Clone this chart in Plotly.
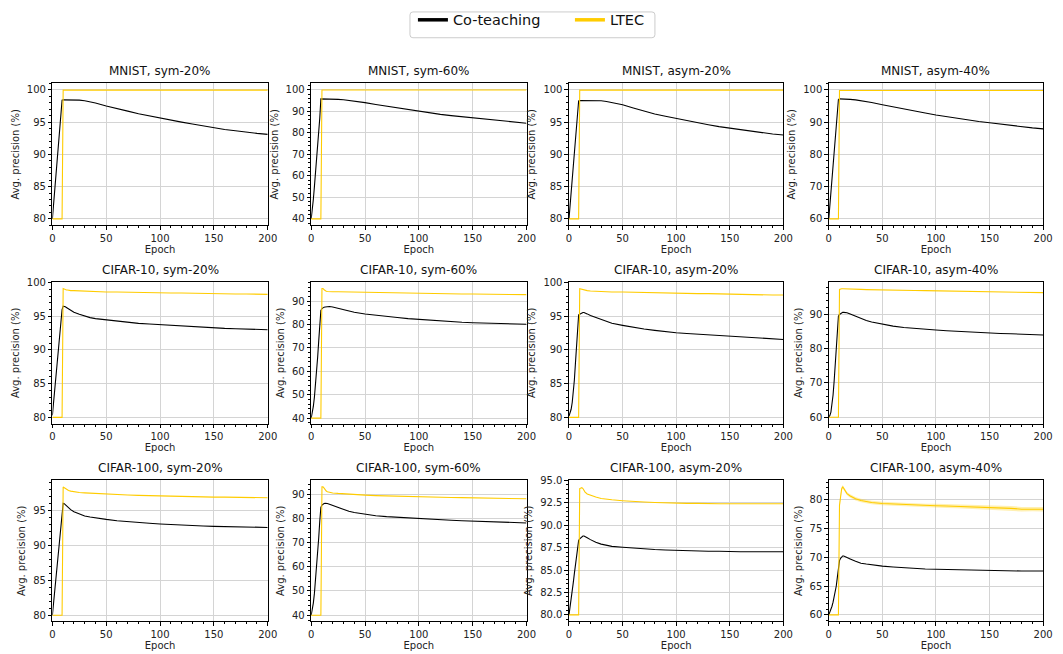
import plotly.graph_objects as go

# ---------------- data ----------------
EPOCHS = [0, 1, 2, 3, 4, 5, 6, 7, 8, 9, 10, 11, 12, 13, 14, 15, 17, 20, 25, 30, 35, 40,
          50, 60, 70, 80, 90, 100, 110, 120, 130, 140, 150, 160, 170, 180, 190, 200]

TITLES = ["MNIST, sym-20%", "MNIST, sym-60%", "MNIST, asym-20%", "MNIST, asym-40%",
          "CIFAR-10, sym-20%", "CIFAR-10, sym-60%", "CIFAR-10, asym-20%", "CIFAR-10, asym-40%",
          "CIFAR-100, sym-20%", "CIFAR-100, sym-60%", "CIFAR-100, asym-20%", "CIFAR-100, asym-40%"]

SERIES_NAMES = ["Co-teaching", "LTEC"]

CT_MNIST_SYM20 = [80.0, 82.1, 84.2, 86.2, 88.3, 90.3, 92.3, 94.3, 96.4, 98.4, 98.45, 98.45, 98.45, 98.45, 98.45, 98.45,
                  98.45, 98.45, 98.4, 98.3, 98.15, 97.95,
                  97.5, 97.05, 96.7, 96.3, 95.95, 95.6, 95.3, 95.0, 94.7, 94.4, 94.15, 93.85, 93.65, 93.4, 93.25, 93.1]
LTEC_MNIST_SYM20 = [80.0, 80.0, 80.0, 80.0, 80.0, 80.0, 80.0, 80.0, 80.0, 80.0, 99.95, 99.95, 99.95, 99.95, 99.95, 99.95,
                    99.95, 99.95, 99.95, 99.95, 99.95, 99.95,
                    99.95, 99.95, 99.95, 99.95, 99.95, 99.95, 99.95, 99.95, 99.95, 99.95, 99.95, 99.95, 99.95, 99.95, 99.95, 99.95]

CT_MNIST_SYM60 = [40.0, 44.0, 49.0, 55.0, 61.0, 67.0, 73.0, 80.0, 87.0, 95.8, 95.8, 95.8, 95.8, 95.8, 95.8, 95.75,
                  95.75, 95.7, 95.55, 95.4, 95.1, 94.8,
                  94.05, 93.2, 92.4, 91.6, 90.8, 90.0, 89.3, 88.6, 88.0, 87.5, 87.0, 86.4, 85.9, 85.4, 85.0, 84.5]
LTEC_MNIST_SYM60 = [40.0, 40.0, 40.0, 40.0, 40.0, 40.0, 40.0, 40.0, 40.0, 40.0, 99.9, 99.9, 99.9, 99.9, 99.9, 99.9,
                    99.9, 99.9, 99.9, 99.9, 99.9, 99.9,
                    99.9, 99.9, 99.9, 99.9, 99.9, 99.9, 99.9, 99.9, 99.9, 99.9, 99.9, 99.9, 99.9, 99.9, 99.9, 99.9]

CT_MNIST_ASYM20 = [80.0, 82.0, 84.1, 86.1, 88.2, 90.2, 92.2, 94.2, 96.3, 98.3, 98.35, 98.35, 98.35, 98.35, 98.35, 98.35,
                   98.35, 98.35, 98.3, 98.3, 98.2, 98.05,
                   97.7, 97.2, 96.7, 96.25, 95.9, 95.55, 95.2, 94.9, 94.6, 94.3, 94.05, 93.8, 93.55, 93.35, 93.15, 93.0]
LTEC_MNIST_ASYM20 = [80.0, 80.0, 80.0, 80.0, 80.0, 80.0, 80.0, 80.0, 80.0, 80.0, 99.95, 99.95, 99.95, 99.95, 99.95, 99.95,
                     99.95, 99.95, 99.95, 99.95, 99.95, 99.95,
                     99.95, 99.95, 99.95, 99.95, 99.95, 99.95, 99.95, 99.95, 99.95, 99.95, 99.95, 99.95, 99.95, 99.95, 99.95, 99.95]

CT_MNIST_ASYM40 = [60.0, 64.1, 68.2, 72.3, 76.4, 80.5, 84.6, 88.7, 92.9, 97.0, 97.2, 97.2, 97.2, 97.2, 97.2, 97.15,
                   97.1, 97.05, 96.9, 96.7, 96.45, 96.1,
                   95.4, 94.7, 94.05, 93.4, 92.8, 92.2, 91.65, 91.1, 90.65, 90.2, 89.8, 89.35, 88.95, 88.55, 88.2, 87.9]
LTEC_MNIST_ASYM40 = [60.0, 60.0, 60.0, 60.0, 60.0, 60.0, 60.0, 60.0, 60.0, 60.0, 99.8, 99.8, 99.8, 99.8, 99.8, 99.8,
                     99.8, 99.8, 99.8, 99.8, 99.8, 99.8,
                     99.8, 99.8, 99.8, 99.8, 99.8, 99.8, 99.8, 99.8, 99.8, 99.8, 99.8, 99.8, 99.8, 99.8, 99.8, 99.8]

CT_C10_SYM20 = [80.3, 82.0, 83.8, 85.6, 87.4, 89.2, 91.0, 92.8, 94.5, 96.0, 96.5, 96.5, 96.4, 96.3, 96.2, 96.1,
                95.9, 95.6, 95.3, 95.0, 94.8, 94.65,
                94.45, 94.25, 94.1, 93.95, 93.85, 93.75, 93.6, 93.5, 93.4, 93.35, 93.3, 93.2, 93.15, 93.1, 93.05, 93.0]
LTEC_C10_SYM20 = [80.0, 80.0, 80.0, 80.0, 80.0, 80.0, 80.0, 80.0, 80.0, 80.0, 99.1, 99.0, 98.95, 98.9, 98.9, 98.85,
                  98.8, 98.8, 98.75, 98.7, 98.7, 98.65,
                  98.6, 98.6, 98.55, 98.55, 98.5, 98.5, 98.45, 98.45, 98.4, 98.4, 98.35, 98.35, 98.3, 98.3, 98.25, 98.25]

CT_C10_SYM60 = [40.0, 42.0, 45.0, 49.0, 54.0, 60.0, 66.0, 73.0, 80.0, 86.0, 86.8, 87.2, 87.4, 87.5, 87.6, 87.7,
                87.7, 87.5, 86.9, 86.2, 85.6, 85.2,
                84.5, 83.9, 83.4, 83.0, 82.5, 82.15, 81.8, 81.5, 81.2, 80.95, 80.75, 80.6, 80.5, 80.4, 80.3, 80.1]
LTEC_C10_SYM60 = [40.0, 40.0, 40.0, 40.0, 40.0, 40.0, 40.0, 40.0, 40.0, 40.0, 95.4, 95.4, 94.8, 94.4, 94.2, 94.1,
                  94.0, 94.0, 93.95, 93.9, 93.85, 93.8,
                  93.7, 93.6, 93.55, 93.5, 93.4, 93.3, 93.25, 93.2, 93.1, 93.05, 93.0, 92.95, 92.9, 92.85, 92.8, 92.75]

CT_C10_ASYM20 = [80.2, 80.6, 81.2, 82.2, 83.6, 85.5, 88.0, 90.8, 93.5, 95.2, 95.3, 95.4, 95.5, 95.55, 95.55, 95.5,
                 95.35, 95.1, 94.8, 94.5, 94.2, 93.95,
                 93.65, 93.35, 93.1, 92.9, 92.7, 92.55, 92.45, 92.35, 92.2, 92.1, 92.0, 91.9, 91.85, 91.8, 91.65, 91.55]
LTEC_C10_ASYM20 = [80.0, 80.0, 80.0, 80.0, 80.0, 80.0, 80.0, 80.0, 80.0, 80.0, 99.1, 99.05, 99.0, 98.95, 98.9, 98.85,
                   98.8, 98.75, 98.7, 98.65, 98.6, 98.6,
                   98.6, 98.55, 98.5, 98.5, 98.45, 98.4, 98.4, 98.35, 98.35, 98.3, 98.3, 98.25, 98.2, 98.2, 98.15, 98.15]

CT_C10_ASYM40 = [60.0, 60.5, 61.5, 63.5, 66.5, 70.5, 75.5, 81.0, 86.0, 89.5, 90.0, 90.3, 90.5, 90.6, 90.6, 90.6,
                 90.5, 90.1, 89.4, 88.8, 88.2, 87.8,
                 87.1, 86.6, 86.2, 85.9, 85.7, 85.45, 85.25, 85.05, 84.85, 84.7, 84.6, 84.45, 84.35, 84.25, 84.1, 84.0]
LTEC_C10_ASYM40 = [60.0, 60.0, 60.0, 60.0, 60.0, 60.0, 60.0, 60.0, 60.0, 60.0, 97.3, 97.5, 97.5, 97.5, 97.5, 97.45,
                   97.4, 97.4, 97.35, 97.3, 97.25, 97.2,
                   97.15, 97.1, 97.05, 97.0, 96.95, 96.9, 96.85, 96.8, 96.75, 96.7, 96.6, 96.55, 96.5, 96.45, 96.4, 96.35]

CT_C100_SYM20 = [80.0, 81.7, 83.4, 85.1, 86.8, 88.5, 90.2, 91.9, 93.6, 95.3, 96.05, 96.0, 95.85, 95.7, 95.55, 95.4,
                 95.15, 94.85, 94.5, 94.25, 94.1, 93.95,
                 93.75, 93.55, 93.4, 93.3, 93.2, 93.1, 93.0, 92.9, 92.85, 92.8, 92.75, 92.7, 92.7, 92.65, 92.6, 92.6]
LTEC_C100_SYM20 = [80.0, 80.0, 80.0, 80.0, 80.0, 80.0, 80.0, 80.0, 80.0, 80.0, 98.4, 98.3, 98.15, 98.05, 97.95, 97.9,
                   97.8, 97.7, 97.6, 97.55, 97.5, 97.45,
                   97.35, 97.3, 97.25, 97.2, 97.15, 97.1, 97.1, 97.05, 97.0, 97.0, 96.95, 96.95, 96.9, 96.9, 96.85, 96.85]

CT_C100_SYM60 = [40.0, 42.0, 45.0, 49.0, 54.0, 60.0, 66.0, 72.0, 79.0, 84.5, 85.5, 85.9, 86.1, 86.2, 86.2, 86.1,
                 85.8, 85.3, 84.3, 83.5, 82.9, 82.4,
                 81.7, 81.1, 80.7, 80.4, 80.1, 79.9, 79.6, 79.4, 79.2, 79.0, 78.85, 78.7, 78.5, 78.35, 78.2, 78.1]
LTEC_C100_SYM60 = [40.0, 40.0, 40.0, 40.0, 40.0, 40.0, 40.0, 40.0, 40.0, 40.0, 93.0, 93.0, 92.5, 91.8, 91.3, 91.0,
                   90.7, 90.5, 90.3, 90.1, 89.95, 89.8,
                   89.6, 89.4, 89.25, 89.1, 89.0, 88.9, 88.8, 88.7, 88.6, 88.55, 88.5, 88.4, 88.3, 88.25, 88.2, 88.1]

CT_C100_ASYM20 = [80.0, 80.8, 81.7, 82.6, 83.6, 84.6, 85.6, 86.6, 87.6, 88.3, 88.5, 88.6, 88.75, 88.8, 88.8, 88.75,
                  88.6, 88.4, 88.1, 87.9, 87.75, 87.65,
                  87.55, 87.45, 87.4, 87.3, 87.25, 87.2, 87.15, 87.15, 87.1, 87.1, 87.05, 87.05, 87.05, 87.05, 87.05, 87.05]
LTEC_C100_ASYM20 = [80.0, 80.0, 80.0, 80.0, 80.0, 80.0, 80.0, 80.0, 80.0, 80.0, 94.1, 94.2, 94.2, 94.1, 93.9, 93.7,
                    93.5, 93.35, 93.15, 93.0, 92.9, 92.85,
                    92.75, 92.65, 92.6, 92.55, 92.5, 92.5, 92.45, 92.45, 92.4, 92.4, 92.4, 92.4, 92.35, 92.35, 92.35, 92.4]

CT_C100_ASYM40 = [60.0, 60.4, 60.9, 61.5, 62.2, 63.0, 63.9, 65.0, 66.5, 68.5, 69.4, 69.8, 70.1, 70.2, 70.2, 70.1,
                  70.0, 69.7, 69.3, 68.95, 68.8, 68.65,
                  68.45, 68.3, 68.15, 68.05, 67.95, 67.9, 67.85, 67.8, 67.75, 67.7, 67.65, 67.65, 67.6, 67.6, 67.6, 67.6]
LTEC_C100_ASYM40 = [60.0, 60.0, 60.0, 60.0, 60.0, 60.0, 60.0, 60.0, 60.0, 60.0, 79.0, 81.0, 81.8, 82.2, 81.9, 81.5,
                    81.0, 80.6, 80.1, 79.8, 79.6, 79.45,
                    79.3, 79.2, 79.1, 79.05, 78.95, 78.9, 78.85, 78.8, 78.7, 78.65, 78.6, 78.5, 78.45, 78.3, 78.35, 78.3]
LTEC_C100_ASYM40_STD = [0.0, 0.0, 0.0, 0.0, 0.0, 0.0, 0.0, 0.0, 0.0, 0.0, 0.6, 0.4, 0.35, 0.3, 0.3, 0.3,
                        0.3, 0.3, 0.3, 0.3, 0.3, 0.3,
                        0.3, 0.3, 0.3, 0.3, 0.3, 0.35, 0.35, 0.35, 0.35, 0.35, 0.35, 0.35, 0.4, 0.4, 0.4, 0.4]

CT_ALL = [CT_MNIST_SYM20, CT_MNIST_SYM60, CT_MNIST_ASYM20, CT_MNIST_ASYM40,
          CT_C10_SYM20, CT_C10_SYM60, CT_C10_ASYM20, CT_C10_ASYM40,
          CT_C100_SYM20, CT_C100_SYM60, CT_C100_ASYM20, CT_C100_ASYM40]
LTEC_ALL = [LTEC_MNIST_SYM20, LTEC_MNIST_SYM60, LTEC_MNIST_ASYM20, LTEC_MNIST_ASYM40,
            LTEC_C10_SYM20, LTEC_C10_SYM60, LTEC_C10_ASYM20, LTEC_C10_ASYM40,
            LTEC_C100_SYM20, LTEC_C100_SYM60, LTEC_C100_ASYM20, LTEC_C100_ASYM40]

X_TICKS = [0, 50, 100, 150, 200]

# ---------------- axis settings ----------------
Y_RANGES = [[79, 101], [37, 103], [79, 101], [58, 102],
            [79.05, 100.1], [37.6, 98.2], [79.05, 100.1], [58.1, 99.5],
            [79.15, 99.35], [37.5, 95.7], [79.29, 95.02], [58.9, 83.3]]
Y_DTICK = [5, 10, 5, 10, 5, 10, 5, 10, 5, 10, 2.5, 5]
Y_MINOR = [1, 2, 1, 2, 1, 2, 1, 2, 1, 2, 0.5, 1]
Y_FMT = ["d", "d", "d", "d", "d", "d", "d", "d", "d", "d", ".1f", "d"]

W, H = 1063, 654
COLS_PX = [(50, 268), (312, 530), (573, 790), (836, 1053)]
ROWS_PX = [(79, 222), (279, 422), (479, 621)]

BLACK = "#000000"
GOLD = "#FFCC00"
FONT = "DejaVu Sans"

fig = go.Figure()
annotations = []

for i in range(12):
    r, c = divmod(i, 4)
    ax = "" if i == 0 else str(i + 1)
    xa, ya = "x" + ax, "y" + ax
    x0, x1 = COLS_PX[c]
    y0, y1 = ROWS_PX[r]

    if i == 11:
        upper = [v + s for v, s in zip(LTEC_ALL[i], LTEC_C100_ASYM40_STD)]
        lower = [v - s for v, s in zip(LTEC_ALL[i], LTEC_C100_ASYM40_STD)]
        fig.add_trace(go.Scatter(x=EPOCHS, y=upper, mode="lines", line=dict(width=0),
                                 showlegend=False, hoverinfo="skip", xaxis=xa, yaxis=ya))
        fig.add_trace(go.Scatter(x=EPOCHS, y=lower, mode="lines", line=dict(width=0),
                                 fill="tonexty", fillcolor="rgba(255,204,0,0.3)",
                                 showlegend=False, hoverinfo="skip", xaxis=xa, yaxis=ya))

    fig.add_trace(go.Scatter(x=EPOCHS, y=CT_ALL[i], mode="lines", name=SERIES_NAMES[0],
                             line=dict(color=BLACK, width=1.1), showlegend=False,
                             xaxis=xa, yaxis=ya))
    fig.add_trace(go.Scatter(x=EPOCHS, y=LTEC_ALL[i], mode="lines", name=SERIES_NAMES[1],
                             line=dict(color=GOLD, width=1.1), showlegend=False,
                             xaxis=xa, yaxis=ya))

    common = dict(showline=True, linecolor="black", linewidth=1, mirror=True,
                  ticks="outside", ticklen=3.5, tickwidth=0.8, tickcolor="black",
                  showgrid=True, gridcolor="#d4d4d4", gridwidth=0.8, zeroline=False,
                  tickfont=dict(family=FONT, size=10, color="#222222"))
    fig.layout["xaxis" + ax] = dict(
        common, domain=[x0 / W, x1 / W], anchor=ya, range=[0, 200],
        tickmode="array", tickvals=X_TICKS,
        minor=dict(ticks="outside", ticklen=2, dtick=10, tick0=0, tickcolor="black", tickwidth=0.6),
        title=dict(text="Epoch", font=dict(family=FONT, size=10, color="#222222"), standoff=2))
    fig.layout["yaxis" + ax] = dict(
        common, domain=[1 - y1 / H, 1 - y0 / H], anchor=xa, range=Y_RANGES[i],
        tick0=0, dtick=Y_DTICK[i], tickformat=Y_FMT[i],
        minor=dict(ticks="outside", ticklen=2, dtick=Y_MINOR[i], tick0=0, tickcolor="black", tickwidth=0.6),
        title=dict(text="Avg. precision (%)", font=dict(family=FONT, size=10, color="#222222"), standoff=5))

    annotations.append(dict(text=TITLES[i], x=(x0 + x1) / 2 / W, y=1 - (y0 - 3) / H,
                            xref="paper", yref="paper", xanchor="center", yanchor="bottom",
                            showarrow=False, font=dict(family=FONT, size=12, color="#111111")))

# legend entries (thicker line samples)
fig.add_trace(go.Scatter(x=[None], y=[None], mode="lines", name=SERIES_NAMES[0],
                         line=dict(color=BLACK, width=3.5), xaxis="x", yaxis="y"))
fig.add_trace(go.Scatter(x=[None], y=[None], mode="lines", name=SERIES_NAMES[1],
                         line=dict(color=GOLD, width=3.5), xaxis="x", yaxis="y"))

# legend frame (rounded box) drawn as a shape in pixel-derived paper coords
LX0, LX1, LY0, LY1, RAD = 412, 660, 7, 33, 3
def px(xp):
    return xp / W
def py(yp):
    return 1 - yp / H
frame_path = (f"M {px(LX0 + RAD)} {py(LY0)} L {px(LX1 - RAD)} {py(LY0)} "
              f"Q {px(LX1)} {py(LY0)} {px(LX1)} {py(LY0 + RAD)} L {px(LX1)} {py(LY1 - RAD)} "
              f"Q {px(LX1)} {py(LY1)} {px(LX1 - RAD)} {py(LY1)} L {px(LX0 + RAD)} {py(LY1)} "
              f"Q {px(LX0)} {py(LY1)} {px(LX0)} {py(LY1 - RAD)} L {px(LX0)} {py(LY0 + RAD)} "
              f"Q {px(LX0)} {py(LY0)} {px(LX0 + RAD)} {py(LY0)} Z")

fig.update_layout(
    width=W, height=H, margin=dict(l=0, r=0, t=0, b=0),
    paper_bgcolor="white", plot_bgcolor="white",
    font=dict(family=FONT, size=10, color="#222222"),
    annotations=annotations,
    shapes=[dict(type="path", path=frame_path, xref="paper", yref="paper",
                 line=dict(color="#cccccc", width=1), fillcolor="white", layer="below")],
    showlegend=True,
    legend=dict(orientation="h", x=415 / W, xanchor="left", y=1 - 15 / H, yanchor="middle",
                traceorder="normal",
                font=dict(family=FONT, size=14.5, color="#111111"),
                bgcolor="rgba(0,0,0,0)", borderwidth=0,
                itemwidth=30, entrywidth=112, entrywidthmode="pixels"),
)

fig.write_html("out.html", config={"displayModeBar": False},
               post_script="document.body.style.margin='0px';")
